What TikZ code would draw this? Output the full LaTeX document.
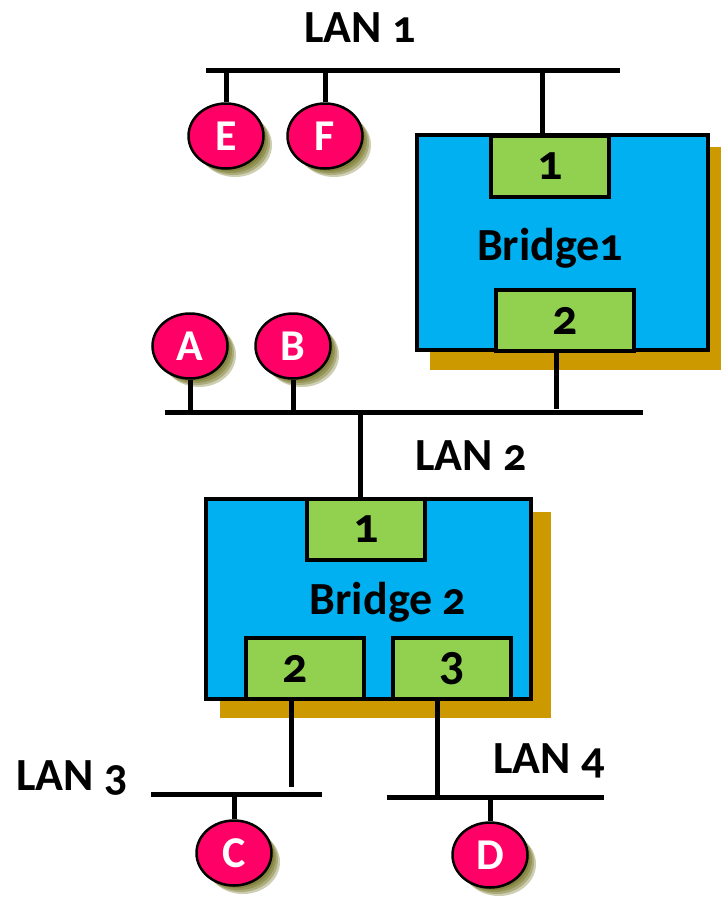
\documentclass[tikz,border=0pt]{standalone}
\usepackage{fontspec}
\setmainfont{Carlito}[Numbers=OldStyle]
\usetikzlibrary{shapes.geometric}
\definecolor{bridgeblue}{HTML}{00B0F0}
\definecolor{portgreen}{HTML}{92D050}
\definecolor{hostpink}{HTML}{FF0066}
\definecolor{shadegold}{HTML}{CC9900}
\definecolor{shadeolive}{HTML}{5C5C00}
\newcommand{\netfont}{\fontsize{46}{50}\selectfont\bfseries}
\newcommand{\portfont}{\fontsize{50}{54}\selectfont\bfseries}
\newcommand{\hostfont}{\fontsize{44}{48}\selectfont\bfseries}
\tikzset{
  bus/.style={draw=black, line width=5pt},
  tap/.style={draw=black, line width=5pt},
  host/.style={ellipse, draw=black, line width=2.5pt, fill=hostpink, minimum width=75pt, minimum height=65pt, inner sep=0pt, text=white, font=\hostfont},
  hostshade/.style={fill=shadeolive, opacity=0.3},
  boxshade/.style={fill=shadegold},
  bridgebox/.style={rectangle, draw=black, line width=4.5pt, fill=bridgeblue, inner sep=0pt},
  port/.style={rectangle, draw=black, line width=4.5pt, fill=portgreen, inner sep=0pt, minimum width=118pt, minimum height=61pt, font=\portfont},
  lab/.style={font=\netfont, anchor=base, inner sep=0pt},
}
\begin{document}
\begin{tikzpicture}[x=1pt,y=-1pt]
  \useasboundingbox (0,0) rectangle (721,897);
  % shadows of the bridges
  \fill[boxshade] (430,147) rectangle (721,370);
  \fill[boxshade] (220,512) rectangle (551,718);
  % bridge 1
  \node[bridgebox, minimum width=291pt, minimum height=215pt] (br1) at (562.5,242.5) {};
  \node[port] (b1p1) at (550,166.5) {1};
  \node[port, minimum width=138pt] (b1p2) at (565,320.5) {2};
  \node[lab] (b1lab) at (550,260) {Bridge1};
  % bridge 2
  \node[bridgebox, minimum width=325pt, minimum height=200pt] (br2) at (368.5,599) {};
  \node[port] (b2p1) at (366,529.5) {1};
  \node[port] (b2p2) at (305,668.5) {2\hspace*{20pt}};
  \node[port] (b2p3) at (452,668.5) {3};
  \node[lab] (b2lab) at (388,614) {Bridge 2};
  % LAN segments
  \coordinate (l1w) at (206,70);  \coordinate (l1e) at (620,70);
  \coordinate (l2w) at (165,412); \coordinate (l2e) at (643,412);
  \coordinate (l3w) at (151,794); \coordinate (l3e) at (322,794);
  \coordinate (l4w) at (387,797); \coordinate (l4e) at (604,797);
  \draw[bus] (l1w) -- (l1e);
  \draw[bus] (l2w) -- (l2e);
  \draw[bus] (l3w) -- (l3e);
  \draw[bus] (l4w) -- (l4e);
  \node[lab] (lan1) at (360,42) {LAN 1};
  \node[lab] (lan2) at (471,470) {LAN 2};
  \node[lab] (lan3) at (72,790) {LAN 3};
  \node[lab] (lan4) at (549,773) {LAN 4};
  % bridge taps
  \coordinate (t1) at (542,70);  \draw[tap] (t1) -- (t1 |- br1.north);
  \coordinate (t2) at (556,412); \draw[tap, shorten >=3pt] (t2 |- b1p2.south) -- (t2);
  \coordinate (t3) at (360,412); \draw[tap] (t3) -- (t3 |- br2.north);
  \coordinate (t4) at (291,794); \draw[tap, shorten >=7pt] (t4 |- b2p2.south) -- (t4);
  \coordinate (t5) at (437,797); \draw[tap] (t5 |- b2p3.south) -- (t5);
  % stations
  \foreach \n/\x/\y in {E/226/136, F/325/136, A/190/346, B/293/346, C/234/853, D/490/855} {
    \foreach \d in {3,5,7,9}
      \fill[hostshade] (\x+\d,\y+\d) ellipse [x radius=37pt, y radius=32pt];
    \node[host] (\n) at (\x,\y) {\n};
  }
  \draw[tap] (E.north) -- (E.north |- l1w);
  \draw[tap] (F.north) -- (F.north |- l1w);
  \draw[tap] (A.south) -- (A.south |- l2w);
  \draw[tap] (B.south) -- (B.south |- l2w);
  \draw[tap] (C.north) -- (C.north |- l3w);
  \draw[tap] (D.north) -- (D.north |- l4w);
\end{tikzpicture}
\end{document}
